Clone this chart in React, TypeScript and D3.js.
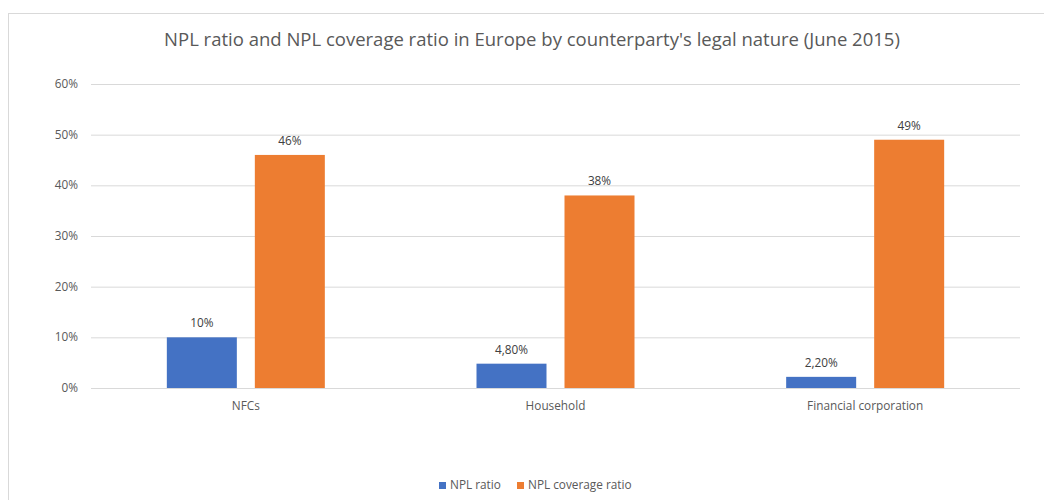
import React from "react";
import * as d3 from "d3";

const categories = ["NFCs", "Household", "Financial corporation"];
const seriesNames = ["NPL ratio", "NPL coverage ratio"];
const nplRatio = [10, 4.8, 2.2];
const nplCoverage = [46, 38, 49];
const nplRatioLabels = ["10%", "4,80%", "2,20%"];
const nplCoverageLabels = ["46%", "38%", "49%"];
const yTicks = [0, 10, 20, 30, 40, 50, 60];
const colors = ["#4472C4", "#ED7D31"];
const title = "NPL ratio and NPL coverage ratio in Europe by counterparty's legal nature (June 2015)";

const W = 1044;
const H = 500;
const plot = { left: 91, right: 1020, top: 84, bottom: 388 };
const FONT = "'Open Sans', 'Noto Sans', sans-serif";
const FS = 11.8;

export default function App() {
  const x = d3.scaleBand<string>().domain(categories).range([plot.left, plot.right]).paddingInner(0).paddingOuter(0);
  const y = d3.scaleLinear().domain([0, 60]).range([plot.bottom, plot.top]);
  const barW = 70;
  const gap = 18;
  const series = [
    { values: nplRatio, labels: nplRatioLabels },
    { values: nplCoverage, labels: nplCoverageLabels },
  ];
  const barX = (ci: number, si: number) => {
    const c = (x(categories[ci]) ?? 0) + x.bandwidth() / 2;
    return si === 0 ? c - gap / 2 - barW : c + gap / 2;
  };
  return (
    <svg width={W} height={H} style={{ position: "absolute", left: 0, top: 0, background: "#fff" }} fontFamily={FONT}>
      <rect x={8.5} y={13.5} width={W + 20} height={H + 20} fill="#fff" stroke="#d9d9d9" strokeWidth={1} />
      <text x={532} y={46} textAnchor="middle" fontSize={18.5} fill="#595959">{title}</text>
      {yTicks.map((t) => (
        <g key={t}>
          <line x1={plot.left} x2={plot.right} y1={y(t) + 0.5} y2={y(t) + 0.5} stroke="#d9d9d9" strokeWidth={1} />
          <text x={78} y={y(t) + 4} textAnchor="end" fontSize={FS} fill="#595959">{t + "%"}</text>
        </g>
      ))}
      {series.map((s, si) =>
        s.values.map((v, ci) => (
          <g key={si + "-" + ci}>
            <rect x={barX(ci, si)} y={y(v)} width={barW} height={y(0) - y(v)} fill={colors[si]} />
            <text x={barX(ci, si) + barW / 2} y={y(v) - 10} textAnchor="middle" fontSize={FS} fill="#404040">{s.labels[ci]}</text>
          </g>
        ))
      )}
      {categories.map((c) => (
        <text key={c} x={(x(c) ?? 0) + x.bandwidth() / 2} y={410} textAnchor="middle" fontSize={FS} fill="#595959">{c}</text>
      ))}
      {seriesNames.map((n, i) => {
        const lx = [439, 517][i];
        return (
          <g key={n}>
            <rect x={lx} y={482} width={7} height={7} fill={colors[i]} />
            <text x={lx + 11} y={489} fontSize={FS} fill="#595959">{n}</text>
          </g>
        );
      })}
    </svg>
  );
}
